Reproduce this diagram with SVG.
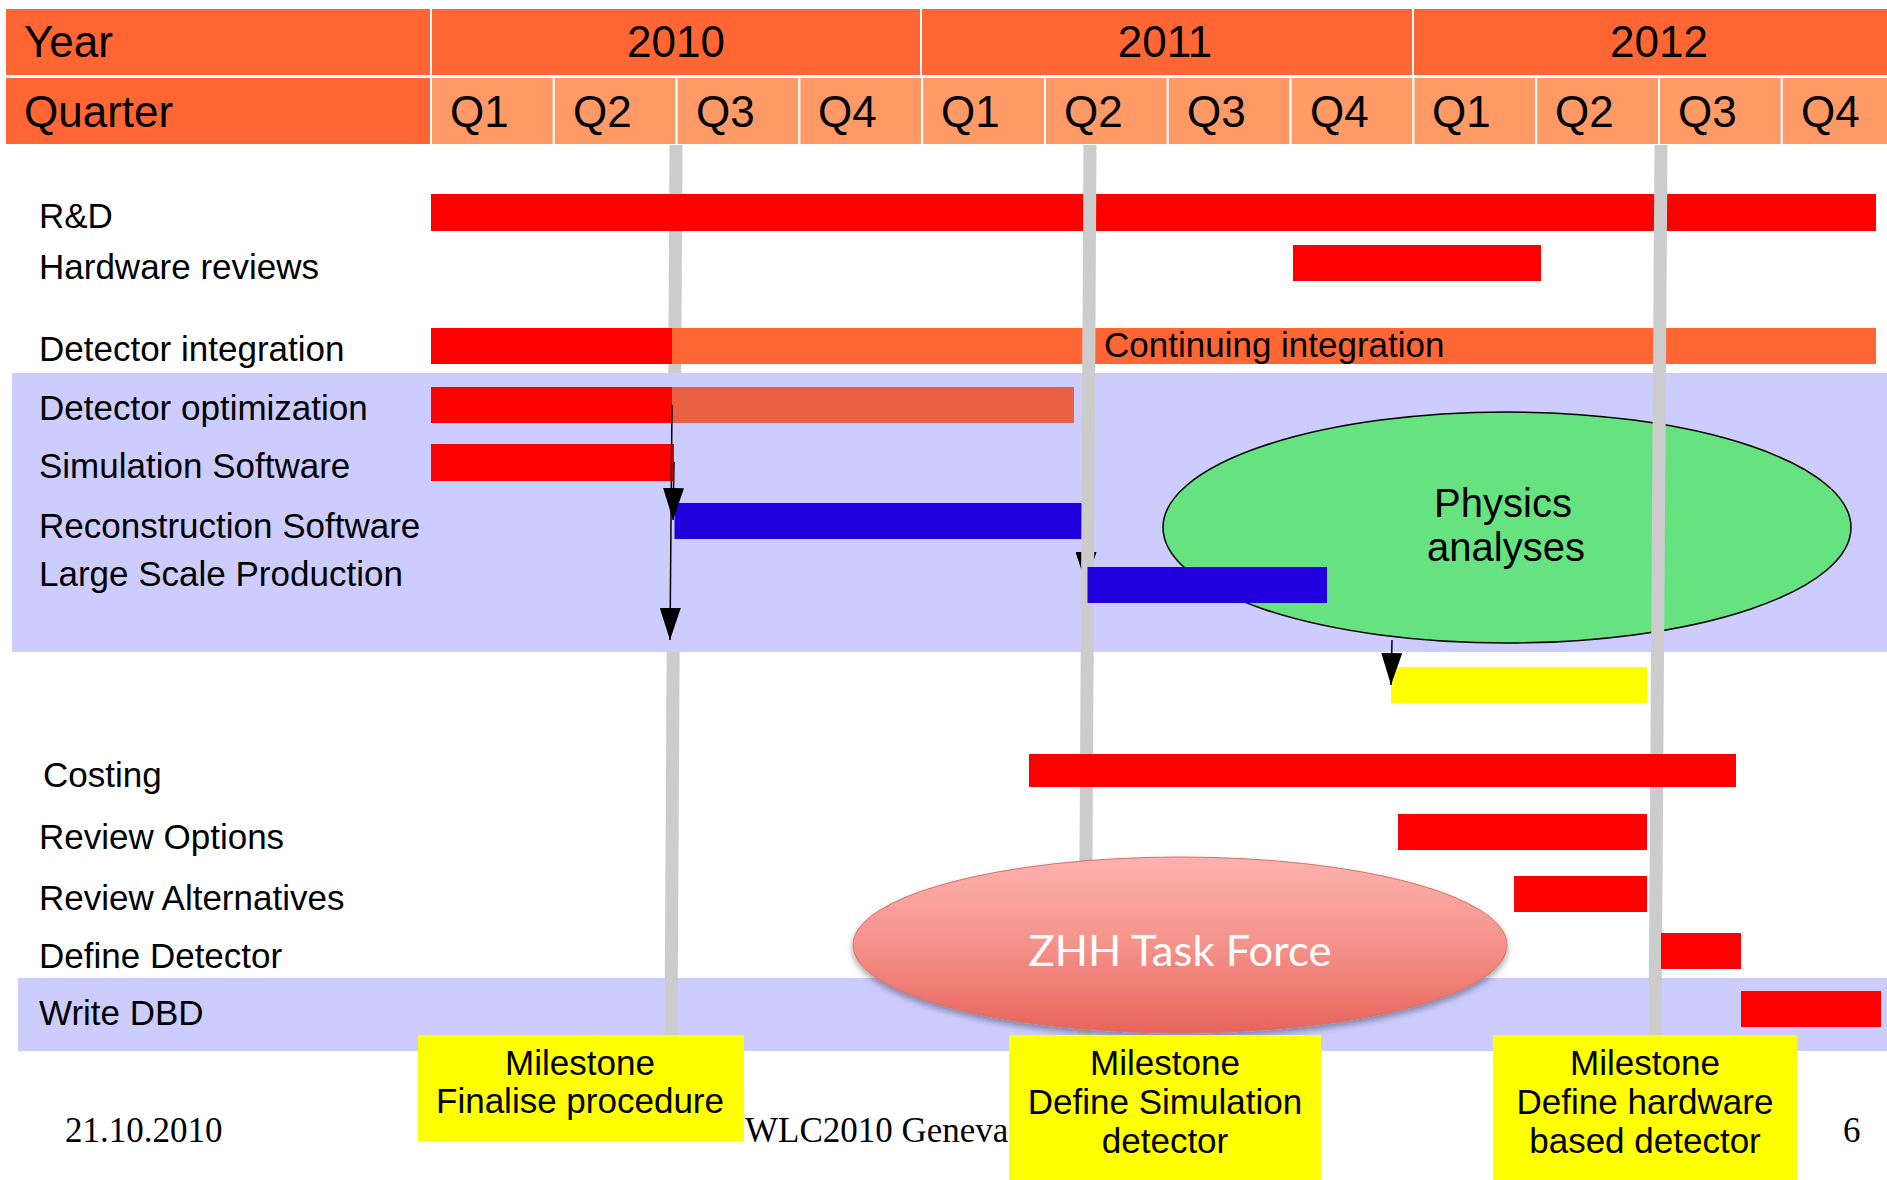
<svg xmlns="http://www.w3.org/2000/svg" width="1887" height="1180" viewBox="0 0 1887 1180">
<defs>
<style>
.hdr{fill:#FF6633;stroke:#FFFFFF;stroke-width:2}
.q{fill:#FF9966;stroke:#FFFFFF;stroke-width:2}
.ht{font-family:"Liberation Sans",Arial,sans-serif;font-size:44px;fill:#000000}
.lbl{font-family:"Liberation Sans",Arial,sans-serif;font-size:35px;fill:#000000}
.mid{text-anchor:middle}
.band{fill:#CCCCFF}
.red{fill:#FF0000}
.blue{fill:#2200DD}
.orange{fill:#FF6633}
.dopt{fill:#E96142}
.yel{fill:#FFFF00}
.ms{stroke:#CCCCCC;stroke-width:13;fill:none}
.conn{stroke:#000000;stroke-width:1.5;fill:none;marker-end:url(#ah)}
.foot{font-family:"Liberation Serif","Times New Roman",serif;font-size:35px;fill:#000000}
</style>
<marker id="ah" viewBox="0 0 32 21" refX="32" refY="10.5" markerWidth="32" markerHeight="21" markerUnits="userSpaceOnUse" orient="auto">
<path d="M0,0 L32,10.5 L0,21 Z" fill="#000000"/>
</marker>
<linearGradient id="zhhGrad" x1="0" y1="0" x2="0" y2="1">
<stop offset="0" stop-color="#FCB2AF"/>
<stop offset="0.5" stop-color="#F5928A"/>
<stop offset="1" stop-color="#E7645B"/>
</linearGradient>
<filter id="shadow" x="-10%" y="-20%" width="120%" height="150%">
<feDropShadow dx="0" dy="4" stdDeviation="3" flood-color="#000000" flood-opacity="0.35"/>
</filter>
</defs>

<rect width="1887" height="1180" fill="#FFFFFF"/>

<g id="header">
<rect class="hdr" x="5" y="8" width="426" height="68"/>
<rect class="hdr" x="431" y="8" width="490" height="68"/>
<rect class="hdr" x="921" y="8" width="492" height="68"/>
<rect class="hdr" x="1413" y="8" width="490" height="68"/>
<rect class="hdr" x="5" y="77" width="426" height="68"/>
<rect class="q" x="431" y="77" width="122.8" height="68"/>
<rect class="q" x="553.8" y="77" width="122.8" height="68"/>
<rect class="q" x="676.6" y="77" width="122.8" height="68"/>
<rect class="q" x="799.4" y="77" width="122.8" height="68"/>
<rect class="q" x="922.2" y="77" width="122.8" height="68"/>
<rect class="q" x="1045" y="77" width="122.8" height="68"/>
<rect class="q" x="1167.8" y="77" width="122.8" height="68"/>
<rect class="q" x="1290.6" y="77" width="122.8" height="68"/>
<rect class="q" x="1413.4" y="77" width="122.8" height="68"/>
<rect class="q" x="1536.2" y="77" width="122.8" height="68"/>
<rect class="q" x="1659" y="77" width="122.8" height="68"/>
<rect class="q" x="1781.8" y="77" width="122.8" height="68"/>
<text class="ht" x="24" y="57">Year</text>
<text class="ht mid" x="676" y="57">2010</text>
<text class="ht mid" x="1165" y="57">2011</text>
<text class="ht mid" x="1659" y="57">2012</text>
<text class="ht" x="24" y="127">Quarter</text>
<text class="ht" x="450" y="127">Q1</text>
<text class="ht" x="573" y="127">Q2</text>
<text class="ht" x="696" y="127">Q3</text>
<text class="ht" x="818" y="127">Q4</text>
<text class="ht" x="941" y="127">Q1</text>
<text class="ht" x="1064" y="127">Q2</text>
<text class="ht" x="1187" y="127">Q3</text>
<text class="ht" x="1310" y="127">Q4</text>
<text class="ht" x="1432" y="127">Q1</text>
<text class="ht" x="1555" y="127">Q2</text>
<text class="ht" x="1678" y="127">Q3</text>
<text class="ht" x="1801" y="127">Q4</text>
</g>

<g id="band-dbd"><rect class="band" x="18" y="978" width="1869" height="73"/></g>

<g id="milestone-line-1"><line class="ms" x1="676" y1="145" x2="671" y2="1035"/></g>

<g id="band-software"><rect class="band" x="12" y="373" width="1875" height="279"/></g>

<g id="physics-analyses">
<ellipse cx="1507" cy="527.5" rx="344" ry="115.5" fill="#66E380" stroke="#000000" stroke-width="1.5"/>
<text class="lbl mid" x="1503" y="517" style="font-size:40px">Physics</text>
<text class="lbl mid" x="1506" y="561" style="font-size:40px">analyses</text>
</g>

<g id="row-rd">
<text class="lbl" x="39" y="228">R&amp;D</text>
<rect class="red" x="431" y="194" width="1445" height="37"/>
</g>
<g id="row-hardware-reviews">
<text class="lbl" x="39" y="279">Hardware reviews</text>
<rect class="red" x="1293" y="245" width="248" height="36"/>
</g>
<g id="row-detector-integration">
<text class="lbl" x="39" y="361">Detector integration</text>
<rect class="red" x="431" y="328" width="241" height="36"/>
<rect class="orange" x="672" y="328" width="1204" height="36"/>
<text class="lbl" x="1104" y="357">Continuing integration</text>
</g>
<g id="row-detector-optimization">
<text class="lbl" x="39" y="420">Detector optimization</text>
<rect class="red" x="431" y="387" width="241" height="36"/>
<rect class="dopt" x="672" y="387" width="402" height="36"/>
</g>
<g id="row-simulation-software">
<text class="lbl" x="39" y="478">Simulation Software</text>
<rect class="red" x="431" y="444" width="243" height="37"/>
</g>
<g id="row-reconstruction-software">
<text class="lbl" x="39" y="538">Reconstruction Software</text>
<rect class="blue" x="674.5" y="503" width="409.5" height="36"/>
</g>
<g id="physics-output-bar">
<rect class="yel" x="1391" y="667" width="256" height="36"/>
</g>

<g id="connectors">
<line class="conn" x1="672" y1="405" x2="670" y2="640"/>
<line class="conn" x1="674" y1="462" x2="673" y2="520"/>
<line class="conn" x1="1086" y1="539" x2="1086" y2="584"/>
<line class="conn" x1="1392" y1="640" x2="1391" y2="685"/>
</g>

<g id="milestone-lines-2-3">
<line class="ms" x1="1090" y1="145" x2="1085" y2="1035"/>
<line class="ms" x1="1661" y1="145" x2="1655" y2="1035"/>
</g>

<g id="row-large-scale-production">
<text class="lbl" x="39" y="586">Large Scale Production</text>
<rect class="blue" x="1087.5" y="567" width="239.5" height="36"/>
</g>
<g id="row-costing">
<text class="lbl" x="43" y="787">Costing</text>
<rect class="red" x="1029" y="754" width="707" height="33"/>
</g>
<g id="row-review-options">
<text class="lbl" x="39" y="849">Review Options</text>
<rect class="red" x="1398" y="814" width="249" height="36"/>
</g>
<g id="row-review-alternatives">
<text class="lbl" x="39" y="910">Review Alternatives</text>
<rect class="red" x="1514" y="876" width="133" height="36"/>
</g>
<g id="row-define-detector">
<text class="lbl" x="39" y="968">Define Detector</text>
<rect class="red" x="1661" y="933" width="80" height="36"/>
</g>
<g id="row-write-dbd">
<text class="lbl" x="39" y="1025">Write DBD</text>
<rect class="red" x="1741" y="991" width="140" height="36"/>
</g>

<g id="zhh-task-force">
<ellipse cx="1180" cy="945" rx="327" ry="88" fill="url(#zhhGrad)" stroke="#D8706A" stroke-width="1" filter="url(#shadow)"/>
<text x="1180" y="966" text-anchor="middle" textLength="303" lengthAdjust="spacingAndGlyphs" style="font-family:Lato,'Open Sans',sans-serif;font-size:43px;fill:#FFFFFF">ZHH Task Force</text>
</g>

<g id="footer">
<text class="foot" x="65" y="1142">21.10.2010</text>
<text class="foot" x="745" y="1142">WLC2010 Geneva</text>
<text class="foot" x="1843" y="1142">6</text>
</g>

<g id="milestone-1">
<rect class="yel" x="418" y="1035" width="326" height="106"/>
<text class="lbl mid" x="580" y="1075">Milestone</text>
<text class="lbl mid" x="580" y="1113">Finalise procedure</text>
</g>
<g id="milestone-2">
<rect class="yel" x="1009" y="1035" width="312" height="145"/>
<text class="lbl mid" x="1165" y="1075">Milestone</text>
<text class="lbl mid" x="1165" y="1114">Define Simulation</text>
<text class="lbl mid" x="1165" y="1153">detector</text>
</g>
<g id="milestone-3">
<rect class="yel" x="1493" y="1035" width="304" height="145"/>
<text class="lbl mid" x="1645" y="1075">Milestone</text>
<text class="lbl mid" x="1645" y="1114">Define hardware</text>
<text class="lbl mid" x="1645" y="1153">based detector</text>
</g>
</svg>
